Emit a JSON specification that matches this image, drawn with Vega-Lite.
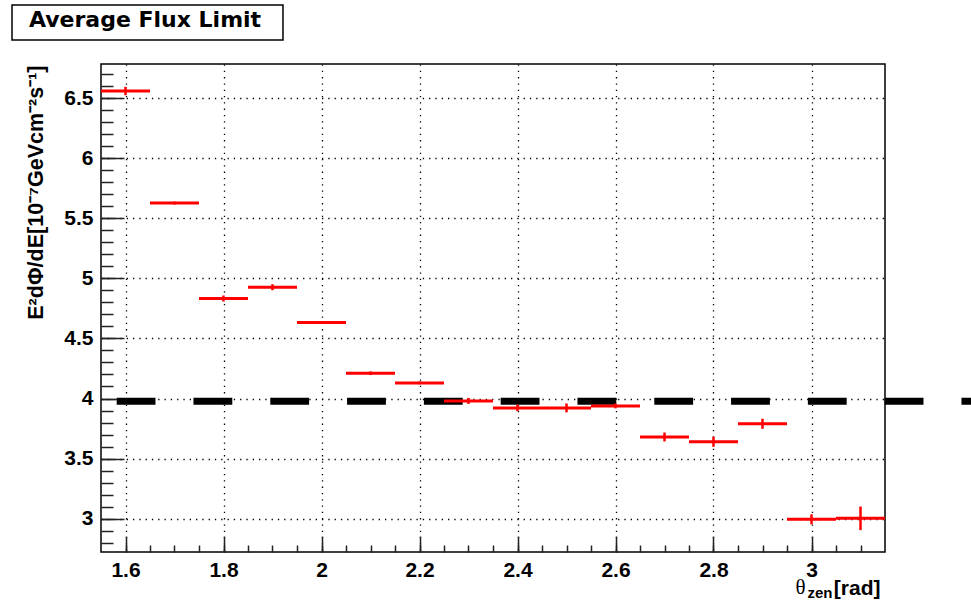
{
  "$schema": "https://vega.github.io/schema/vega-lite/v6.json",
  "width": 784,
  "height": 488,
  "autosize": "none",
  "padding": {"left": 101, "top": 64, "right": 86, "bottom": 59},
  "background": "white",
  "config": {
    "view": {"stroke": "black", "strokeWidth": 1.5},
    "axis": {
      "domain": false,
      "tickColor": "#222",
      "tickWidth": 1.5,
      "labelFont": "Liberation Sans",
      "labelFontWeight": "bold",
      "labelFontSize": 21,
      "labelColor": "black",
      "titleColor": "black",
      "gridColor": "black",
      "gridWidth": 1.3,
      "gridDash": [1.3, 5]
    }
  },
  "datasets": {
    "flux_bins": [
      {"lo": 1.55, "hi": 1.65, "theta": 1.6, "flux": 6.558, "err": 0.035},
      {"lo": 1.65, "hi": 1.75, "theta": 1.7, "flux": 5.626, "err": 0.012},
      {"lo": 1.75, "hi": 1.85, "theta": 1.8, "flux": 4.832, "err": 0.025},
      {"lo": 1.85, "hi": 1.95, "theta": 1.9, "flux": 4.926, "err": 0.025},
      {"lo": 1.95, "hi": 2.05, "theta": 2.0, "flux": 4.632, "err": 0.012},
      {"lo": 2.05, "hi": 2.15, "theta": 2.1, "flux": 4.21, "err": 0.015},
      {"lo": 2.15, "hi": 2.25, "theta": 2.2, "flux": 4.13, "err": 0.012},
      {"lo": 2.25, "hi": 2.35, "theta": 2.3, "flux": 3.98, "err": 0.025},
      {"lo": 2.35, "hi": 2.45, "theta": 2.4, "flux": 3.922, "err": 0.028},
      {"lo": 2.45, "hi": 2.55, "theta": 2.5, "flux": 3.922, "err": 0.037},
      {"lo": 2.55, "hi": 2.65, "theta": 2.6, "flux": 3.938, "err": 0.02},
      {"lo": 2.65, "hi": 2.75, "theta": 2.7, "flux": 3.68, "err": 0.037},
      {"lo": 2.75, "hi": 2.85, "theta": 2.8, "flux": 3.64, "err": 0.042},
      {"lo": 2.85, "hi": 2.95, "theta": 2.9, "flux": 3.79, "err": 0.042},
      {"lo": 2.95, "hi": 3.05, "theta": 3.0, "flux": 2.995, "err": 0.042},
      {"lo": 3.05, "hi": 3.15, "theta": 3.1, "flux": 3.003, "err": 0.098}
    ],
    "average": [
      {"start": 1.582, "end": 3.4, "flux": 3.977}
    ]
  },
  "layer": [
    {
      "description": "frame around the chart title",
      "data": {"values": [{}]},
      "mark": {"type": "rect", "filled": false, "stroke": "black", "strokeWidth": 1.5, "clip": false},
      "encoding": {
        "x": {"datum": 1.3684, "type": "quantitative", "scale": {"domain": [1.55, 3.15], "nice": false, "zero": false},
          "axis": {"orient": "bottom", "ticks": false, "labels": false, "grid": false, "title": "zen",
            "titleFont": "Liberation Sans", "titleFontWeight": "bold", "titleFontSize": 15,
            "titleAlign": "left", "titleAnchor": "start", "titleBaseline": "alphabetic", "titleX": 706, "titleY": 45}},
        "x2": {"datum": 1.9214},
        "y": {"datum": 7.274, "type": "quantitative", "scale": {"domain": [2.723, 6.783], "nice": false, "zero": false}, "axis": null},
        "y2": {"datum": 6.983}
      }
    },
    {
      "description": "chart title inside its frame",
      "data": {"values": [{}]},
      "mark": {"type": "text", "text": "Average Flux Limit", "font": "DejaVu Sans", "fontWeight": "bold", "fontSize": 22,
        "color": "black", "align": "left", "baseline": "alphabetic", "clip": false},
      "encoding": {
        "x": {"datum": 1.403, "type": "quantitative", "axis": null},
        "y": {"datum": 7.091, "type": "quantitative", "axis": null}
      }
    },
    {
      "description": "average limit drawn as a thick dashed line",
      "data": {"name": "average"},
      "mark": {"type": "rule", "color": "black", "strokeWidth": 7, "strokeDash": [38.8, 38], "strokeCap": "butt", "clip": false},
      "encoding": {
        "x": {"field": "start", "type": "quantitative",
          "axis": {"orient": "bottom", "values": [1.6, 1.65, 1.7, 1.75, 1.8, 1.85, 1.9, 1.95, 2.0, 2.05, 2.1, 2.15, 2.2, 2.25, 2.3, 2.35, 2.4, 2.45, 2.5, 2.55, 2.6, 2.65, 2.7, 2.75, 2.8, 2.85, 2.9, 2.95, 3.0, 3.05, 3.1],
            "tickSize": -7, "labels": false, "grid": false, "title": "θ",
            "titleFont": "Liberation Serif", "titleFontWeight": "normal", "titleFontSize": 21,
            "titleAlign": "left", "titleAnchor": "start", "titleBaseline": "alphabetic", "titleX": 694, "titleY": 41}},
        "x2": {"field": "end"},
        "y": {"field": "flux", "type": "quantitative",
          "axis": {"orient": "left", "values": [2.8, 2.9, 3.0, 3.1, 3.2, 3.3, 3.4, 3.5, 3.6, 3.7, 3.8, 3.9, 4.0, 4.1, 4.2, 4.3, 4.4, 4.5, 4.6, 4.7, 4.8, 4.9, 5.0, 5.1, 5.2, 5.3, 5.4, 5.5, 5.6, 5.7, 5.8, 5.9, 6.0, 6.1, 6.2, 6.3, 6.4, 6.5, 6.6, 6.7],
            "tickSize": -12, "labels": false, "grid": false, "title": null}}
      }
    },
    {
      "description": "one horizontal segment per zenith-angle bin",
      "data": {"name": "flux_bins"},
      "mark": {"type": "rule", "color": "#ff0000", "strokeWidth": 3},
      "encoding": {
        "x": {"field": "lo", "type": "quantitative",
          "axis": {"orient": "bottom", "values": [1.6, 1.8, 2.0, 2.2, 2.4, 2.6, 2.8, 3.0], "format": "~g",
            "tickSize": -16, "labelPadding": 23, "grid": true, "title": "[rad]",
            "titleFont": "Liberation Sans", "titleFontWeight": "bold", "titleFontSize": 21,
            "titleAlign": "right", "titleAnchor": "end", "titleBaseline": "alphabetic", "titleX": 779, "titleY": 42}},
        "x2": {"field": "hi"},
        "y": {"field": "flux", "type": "quantitative",
          "axis": {"orient": "left", "values": [3, 3.5, 4, 4.5, 5, 5.5, 6, 6.5], "format": "~g",
            "tickSize": -23, "labelPadding": 31, "grid": true,
            "title": "E²dΦ/dE[10⁻⁷GeVcm⁻²s⁻¹]",
            "titleFont": "Liberation Sans", "titleFontWeight": "bold", "titleFontSize": 21.5,
            "titleAngle": -90, "titleAlign": "right", "titleAnchor": "end", "titleBaseline": "alphabetic",
            "titleX": -59, "titleY": 1}}
      }
    },
    {
      "description": "statistical error of each bin",
      "data": {"name": "flux_bins"},
      "mark": {"type": "errorbar", "color": "#ff0000", "thickness": 2.5},
      "encoding": {
        "x": {"field": "theta", "type": "quantitative", "axis": null},
        "y": {"field": "flux", "type": "quantitative", "axis": null},
        "yError": {"field": "err"}
      }
    }
  ],
  "resolve": {"axis": {"x": "independent", "y": "independent"}}
}
